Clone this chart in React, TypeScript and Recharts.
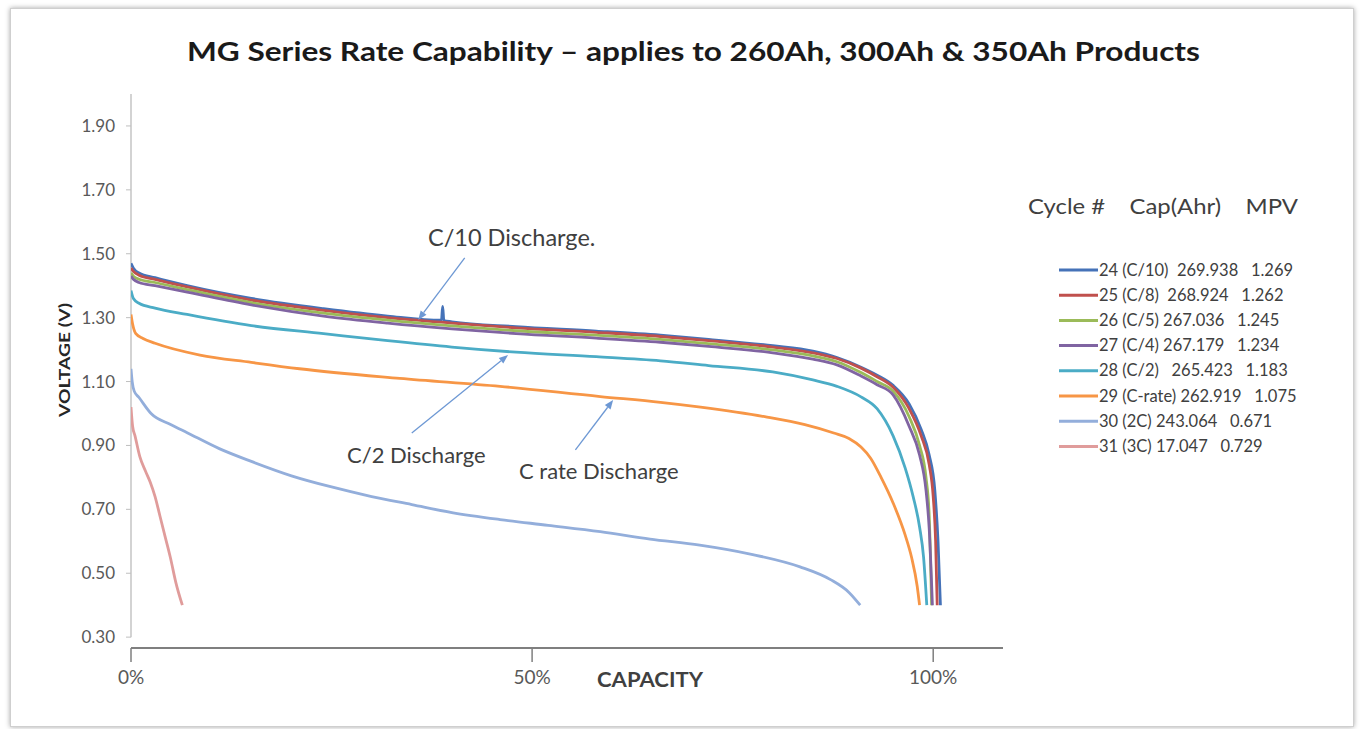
import React from 'react';
import { LineChart, Line, XAxis, YAxis, ReferenceLine, Legend } from 'recharts';

const FONT = "Lato, 'Open Sans', sans-serif";

// ---- data: [capacity %, voltage V] ----
const c10: [number, number][] = [
  [0, 1.47], [0.3, 1.455], [1, 1.44], [3, 1.425], [7, 1.4], [15, 1.36], [24, 1.328], [32, 1.305],
  [38.7, 1.292], [38.85, 1.335], [39.0, 1.291], [40, 1.287], [48, 1.272], [58, 1.258], [66, 1.245],
  [72, 1.232], [80, 1.212], [85, 1.195], [88, 1.175], [91, 1.145], [93, 1.12], [95, 1.088],
  [97, 1.03], [98.5, 0.95], [99.5, 0.87], [100.2, 0.76], [100.6, 0.6], [100.9, 0.4],
];
const c8: [number, number][] = [
  [0, 1.455], [0.3, 1.445], [1, 1.433], [3, 1.42], [7, 1.396], [15, 1.355], [24, 1.323], [32, 1.3],
  [40, 1.283], [48, 1.268], [58, 1.254], [66, 1.241], [72, 1.228], [80, 1.208], [85, 1.19],
  [88, 1.172], [91, 1.142], [93, 1.115], [95, 1.082], [97, 1.015], [98.5, 0.93], [99.5, 0.84],
  [100, 0.74], [100.3, 0.6], [100.5, 0.4],
];
const c5: [number, number][] = [
  [0, 1.44], [0.3, 1.43], [1, 1.42], [3, 1.41], [7, 1.388], [15, 1.347], [24, 1.314], [32, 1.292],
  [40, 1.274], [48, 1.259], [58, 1.245], [66, 1.232], [72, 1.219], [80, 1.199], [85, 1.18],
  [88, 1.162], [91, 1.128], [93, 1.1], [95, 1.07], [97, 0.99], [98.3, 0.9], [99.1, 0.8],
  [99.5, 0.68], [99.8, 0.4],
];
const c4: [number, number][] = [
  [0, 1.43], [0.3, 1.42], [1, 1.41], [3, 1.4], [7, 1.38], [15, 1.34], [24, 1.305], [32, 1.283],
  [40, 1.265], [48, 1.25], [58, 1.236], [66, 1.223], [72, 1.21], [80, 1.19], [85, 1.17],
  [88, 1.152], [91, 1.117], [93, 1.09], [95, 1.058], [97, 0.96], [98.3, 0.87], [99.1, 0.76],
  [99.5, 0.64], [99.9, 0.4],
];
const c2: [number, number][] = [
  [0, 1.385], [0.3, 1.36], [1, 1.345], [3, 1.33], [7, 1.31], [15, 1.275], [24, 1.25], [32, 1.228],
  [40, 1.208], [48, 1.192], [58, 1.178], [66, 1.165], [72, 1.15], [80, 1.13], [85, 1.105],
  [88, 1.085], [91, 1.052], [93, 1.015], [95, 0.93], [96.5, 0.83], [97.5, 0.74], [98.3, 0.645],
  [98.8, 0.55], [99.2, 0.4],
];
const c1: [number, number][] = [
  [0, 1.31], [0.2, 1.28], [0.6, 1.25], [1.5, 1.235], [3, 1.22], [8.6, 1.183], [15, 1.16],
  [21, 1.14], [33.5, 1.11], [46, 1.085], [58.5, 1.053], [66, 1.035], [71, 1.02], [79, 0.99],
  [84, 0.965], [87.6, 0.939], [89.5, 0.922], [91, 0.895], [92.2, 0.86], [93.5, 0.8], [95, 0.72],
  [96.5, 0.62], [97.3, 0.55], [98, 0.46], [98.3, 0.4],
];
const c2x: [number, number][] = [
  [0, 1.14], [0.15, 1.1], [0.4, 1.07], [1, 1.05], [2.5, 1.0], [5, 0.965], [7, 0.94], [11, 0.89],
  [15, 0.85], [20, 0.805], [25, 0.77], [30, 0.74], [35, 0.715], [40, 0.69], [46, 0.668],
  [52, 0.65], [58.5, 0.63], [64.7, 0.607], [70.9, 0.588], [77.2, 0.56], [83.4, 0.52],
  [87.2, 0.48], [89.5, 0.44], [90.9, 0.4],
];
const c3x: [number, number][] = [
  [0, 1.02], [0.2, 0.96], [0.5, 0.93], [1.1, 0.865], [1.8, 0.82], [2.4, 0.785], [3, 0.74],
  [3.6, 0.68], [4.3, 0.61], [4.9, 0.55], [5.6, 0.47], [6.4, 0.4],
];

const seriesData = [c10, c8, c5, c4, c2, c1, c2x, c3x];
const seriesNames = [
  '24 (C/10)  269.938   1.269',
  '25 (C/8)  268.924   1.262',
  '26 (C/5) 267.036   1.245',
  '27 (C/4) 267.179   1.234',
  '28 (C/2)   265.423   1.183',
  '29 (C-rate) 262.919   1.075',
  '30 (2C) 243.064   0.671',
  '31 (3C) 17.047   0.729',
];
const seriesColors = ['#4572B8', '#C0504D', '#9BBB59', '#8064A2', '#4BACC6', '#F79646', '#93AEDB', '#E09C9B'];

const legendHeader = 'Cycle #    Cap(Ahr)    MPV';
const xTicks = [0, 50, 100];
const yTicks = [0.3, 0.5, 0.7, 0.9, 1.1, 1.3, 1.5, 1.7, 1.9];

const arrows: { from: [number, number]; to: [number, number] }[] = [
  { from: [41.6, 1.487], to: [35.8, 1.293] },
  { from: [35.0, 0.939], to: [47.0, 1.183] },
  { from: [55.4, 0.886], to: [60.1, 1.042] },
];

const title = 'MG Series Rate Capability \u2013 applies to 260Ah, 300Ah & 350Ah Products';

const ARROW_COLOR = '#6D98D4';

const ArrowShape = (p: any) => {
  const { x1, y1, x2, y2 } = p;
  const ang = Math.atan2(y2 - y1, x2 - x1);
  const L = 9;
  const W = 3.6;
  const bx = x2 - L * Math.cos(ang);
  const by = y2 - L * Math.sin(ang);
  const pts = `${x2},${y2} ${bx + W * Math.sin(ang)},${by - W * Math.cos(ang)} ${bx - W * Math.sin(ang)},${by + W * Math.cos(ang)}`;
  return (
    <g>
      <line x1={x1} y1={y1} x2={bx} y2={by} stroke={ARROW_COLOR} strokeWidth={1.3} />
      <polygon points={pts} fill={ARROW_COLOR} />
    </g>
  );
};

const renderLegend = () => (
  <svg width={330} height={280} style={{ display: 'block' }}>
    <text x={8} y={29} fontFamily={FONT} fontSize={21} fill="#404040" style={{ whiteSpace: 'pre' }} textLength={270} lengthAdjust="spacingAndGlyphs">
      {legendHeader}
    </text>
    {seriesNames.map((n, i) => {
      const cy = 85 + 25.2 * i;
      return (
        <g key={n}>
          <line x1={39} x2={78} y1={cy} y2={cy} stroke={seriesColors[i]} strokeWidth={3} />
          <text x={79} y={cy + 5.5} fontFamily={FONT} fontSize={16.5} fill="#404040" style={{ whiteSpace: 'pre' }}>
            {n}
          </text>
        </g>
      );
    })}
  </svg>
);

export default function App() {
  return (
    <div style={{ position: 'absolute', left: 0, top: 0, width: 1362, height: 729, background: '#fff', overflow: 'hidden' }}>
      <div
        style={{
          position: 'absolute', left: 10, top: 8, width: 1342, height: 717,
          border: '1px solid #cfcfcf', boxShadow: '0 0 5px rgba(0,0,0,0.35)', background: '#fff',
        }}
      />
      <div style={{ position: 'absolute', left: 0, top: 0 }}>
        <LineChart width={1362} height={729} margin={{ top: 94, right: 359, bottom: 41, left: 71 }}>
          <XAxis
            type="number"
            dataKey="x"
            domain={[0, 108.7]}
            allowDataOverflow
            ticks={xTicks}
            tickFormatter={(v: number) => `${v}%`}
            height={40}
            axisLine={{ stroke: '#7f7f7f', strokeWidth: 2 }}
            tickLine={{ stroke: '#7f7f7f', strokeWidth: 1.5 }}
            tickSize={14}
            tickMargin={9}
            tick={{ fontFamily: FONT, fontSize: 19, fill: '#595959' }}
          />
          <YAxis
            type="number"
            dataKey="v"
            domain={[0.266, 2.0]}
            allowDataOverflow
            ticks={yTicks}
            tickFormatter={(v: number) => v.toFixed(2)}
            width={60}
            axisLine={false}
            tickLine={{ stroke: '#bfbfbf' }}
            tickSize={5}
            tickMargin={11}
            tick={{ fontFamily: FONT, fontSize: 17, fill: '#595959' }}
          />
          <ReferenceLine segment={[{ x: 0, y: 0.3 }, { x: 0, y: 2.0 }]} stroke="#c4c4c4" strokeWidth={1.5} />
          {seriesData.map((d, i) => (
            <Line
              key={seriesNames[i]}
              name={seriesNames[i]}
              data={d.map(([x, v]) => ({ x, v }))}
              dataKey="v"
              type="monotone"
              stroke={seriesColors[i]}
              strokeWidth={2.8}
              dot={false}
              activeDot={false}
              isAnimationActive={false}
            />
          ))}
          {arrows.map((a, i) => (
            <ReferenceLine
              key={i}
              segment={[{ x: a.from[0], y: a.from[1] }, { x: a.to[0], y: a.to[1] }]}
              shape={ArrowShape}
              stroke={ARROW_COLOR}
            />
          ))}
          <Legend
            layout="vertical"
            align="center"
            verticalAlign="middle"
            content={renderLegend}
            wrapperStyle={{ position: 'absolute', left: 1020, top: 185, width: 330, height: 280 }}
          />
        </LineChart>
      </div>
      <svg width={1362} height={729} style={{ position: 'absolute', left: 0, top: 0, pointerEvents: 'none' }}>
        <text x={693.5} y={61} textAnchor="middle" fontFamily={FONT} fontWeight="bold" fontSize={27} fill="#1a1a1a" textLength={1013} lengthAdjust="spacingAndGlyphs">
          {title}
        </text>
        <text x={428} y={246} fontFamily={FONT} fontSize={23.5} fill="#404040">C/10 Discharge.</text>
        <text x={347} y={463} fontFamily={FONT} fontSize={22} fill="#404040">C/2 Discharge</text>
        <text x={519} y={479} fontFamily={FONT} fontSize={22} fill="#404040">C rate Discharge</text>
        <text x={650} y={687} textAnchor="middle" fontFamily={FONT} fontWeight="bold" fontSize={20} fill="#404040" textLength={106} lengthAdjust="spacingAndGlyphs">
          CAPACITY
        </text>
        <text
          x={0}
          y={0}
          transform="translate(70,360) rotate(-90)"
          textAnchor="middle"
          fontFamily={FONT}
          fontWeight="bold"
          fontSize={15}
          fill="#262626"
          textLength={114}
          lengthAdjust="spacingAndGlyphs"
        >
          VOLTAGE (V)
        </text>
      </svg>
    </div>
  );
}
